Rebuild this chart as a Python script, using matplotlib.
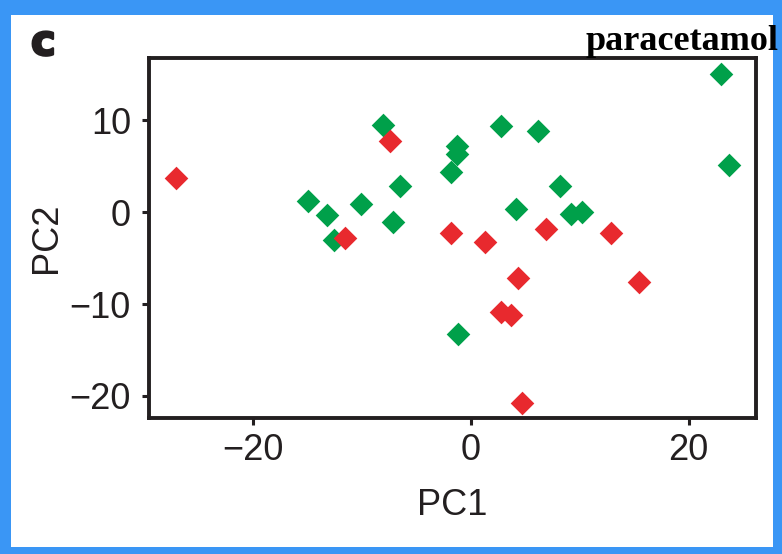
import matplotlib.pyplot as plt
import matplotlib.patheffects as pe
from matplotlib.patches import Rectangle

# PCA scores
green_pc1 = [-15.0, -13.2, -12.6, -10.1, -8.1, -6.5, -7.2, 23.0, 23.7, 2.8,
             6.2, -1.3, -1.3, -1.8, 8.2, 4.1, 9.2, 10.2, -1.2]
green_pc2 = [1.2, -0.3, -3.0, 0.9, 9.5, 2.9, -1.1, 15.1, 5.2, 9.4,
             8.9, 7.2, 6.4, 4.4, 2.9, 0.4, -0.2, 0.0, -13.3]
red_pc1 = [-27.1, -11.6, -7.4, -1.8, 1.3, 6.9, 12.9, 4.3, 15.4, 2.8, 3.7, 4.7]
red_pc2 = [3.7, -2.8, 7.8, -2.3, -3.2, -1.8, -2.3, -7.2, -7.6, -10.9, -11.2, -20.8]

xticks = [-20, 0, 20]
yticks = [-20, -10, 0, 10]

plt.rcParams['font.family'] = ['Liberation Sans', 'DejaVu Sans']

fig = plt.figure(figsize=(7.82, 5.54), dpi=100)
fig.patch.set_facecolor('#3A96F5')
# white panel inside the blue frame, kept under the axes
fig.patches.append(Rectangle((11 / 782, 7 / 554), 762 / 782, 532 / 554,
                             transform=fig.transFigure, facecolor='white',
                             edgecolor='none', zorder=-5))

ax = fig.add_axes([149 / 782, 136 / 554, 607 / 782, 360 / 554])
ax.set_zorder(1)
ax.scatter(green_pc1, green_pc2, marker='D', s=145, color='#00A04A', linewidths=0, zorder=3)
ax.scatter(red_pc1, red_pc2, marker='D', s=145, color='#E8292E', linewidths=0, zorder=3)

ax.set_xlim(-29.6, 26.2)
ax.set_ylim(-22.4, 16.8)
ax.set_xticks(xticks)
ax.set_yticks(yticks)
for sp in ax.spines.values():
    sp.set_linewidth(2.8)
    sp.set_color('#231F20')
ax.tick_params(direction='out', length=5, width=2.2, color='#231F20',
               labelsize=26, labelcolor='#231F20', pad=6)
ax.tick_params(axis='y', pad=8)
ax.set_xlabel('PC1', fontsize=26, color='#231F20', labelpad=14)
ax.set_ylabel('PC2', fontsize=26, color='#231F20', labelpad=4)

fig.text(31 / 782, 1 - 55 / 554, 'c', fontsize=30, fontweight='black',
         family='DejaVu Sans', color='#231F20', va='baseline', zorder=5,
         path_effects=[pe.withStroke(linewidth=1.8, foreground='#231F20')])
fig.text(586 / 782, 1 - 50 / 554, 'paracetamol', fontsize=26, fontweight='bold',
         family='Liberation Serif', color='black', va='baseline', zorder=5)

fig.savefig('out.png', dpi=100, facecolor=fig.get_facecolor())
